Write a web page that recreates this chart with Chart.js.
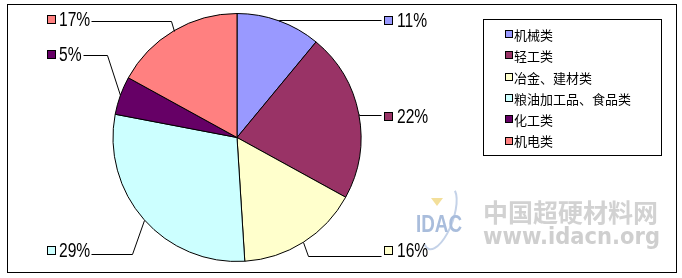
<!DOCTYPE html>
<html>
<head>
<meta charset="utf-8">
<script src="https://cdn.jsdelivr.net/npm/chart.js@4"></script>
<style>
html, body { margin: 0; padding: 0; background: #fff; }
#wrap { position: relative; width: 682px; height: 278px; }
</style>
</head>
<body>
<div id="wrap"><canvas id="industry_pie" width="682" height="278"></canvas></div>
<script>
// data
const categories = ['机械类', '轻工类', '冶金、建材类', '粮油加工品、食品类', '化工类', '机电类'];
const shares = [11, 22, 16, 29, 5, 17];
const sliceColors = ['#9999FF', '#993366', '#FFFFCC', '#CCFFFF', '#660066', '#FF8080'];

// where each percentage label sits (layout only)
const labelLayout = [
    { side: 'right', y: 20, lineY: 20 },
    { side: 'right', y: 116, lineY: 115 },
    { side: 'right', y: 250, lineY: 256 },
    { side: 'left', y: 250, lineY: 254 },
    { side: 'left', y: 54, lineY: 55 },
    { side: 'left', y: 19, lineY: 21 }
];

const pctFont = '20px "Liberation Sans", sans-serif';
const pctSquash = 0.78; // the original uses a tall narrow face
const legendFont = '13px "Noto Sans CJK SC", sans-serif';

const excelPlugin = {
    id: 'excelPlugin',
    beforeDraw(chart) {
        const ctx = chart.ctx;
        ctx.save();
        ctx.fillStyle = '#fff';
        ctx.fillRect(0, 0, chart.width, chart.height);
        ctx.strokeStyle = '#000';
        ctx.lineWidth = 1;
        ctx.strokeRect(7.5, 4.5, 669, 268);

        // watermark
        ctx.fillStyle = '#d2d2d2';
        ctx.font = 'bold 25px "Noto Sans CJK SC", sans-serif';
        ctx.textBaseline = 'middle';
        ctx.textAlign = 'left';
        ctx.fillText('中国超硬材料网', 483, 212, 178);
        ctx.fillStyle = '#cfcfcf';
        ctx.font = 'bold 23px "DejaVu Sans", sans-serif';
        ctx.fillText('www.idacn.org', 483, 238, 177);

        ctx.strokeStyle = '#c4d2e8';
        ctx.lineWidth = 2;
        ctx.beginPath();
        ctx.ellipse(440, 218, 13, 33, 0.35, -1.2, 2.0);
        ctx.stroke();
        ctx.fillStyle = '#f3df9a';
        ctx.beginPath();
        ctx.moveTo(431, 198); ctx.lineTo(443, 198); ctx.lineTo(437, 206); ctx.closePath();
        ctx.fill();
        ctx.fillStyle = '#a9bddc';
        ctx.font = 'bold 24px "Liberation Sans", sans-serif';
        ctx.fillText('IDAC', 416, 225, 46);
        ctx.restore();
    },
    afterDatasetsDraw(chart) {
        const ctx = chart.ctx;
        const arcs = chart.getDatasetMeta(0).data;
        ctx.save();
        ctx.strokeStyle = '#000';
        ctx.lineWidth = 1;
        ctx.font = pctFont;
        ctx.textBaseline = 'middle';
        ctx.textAlign = 'left';
        arcs.forEach((arc, i) => {
            const p = arc.getProps(['x', 'y', 'startAngle', 'endAngle', 'outerRadius'], true);
            const mid = (p.startAngle + p.endAngle) / 2;
            const ax = p.x + Math.cos(mid) * p.outerRadius;
            const ay = p.y + Math.sin(mid) * p.outerRadius;
            const lay = labelLayout[i];
            const text = shares[i] + '%';
            const textW = ctx.measureText(text).width * pctSquash;
            const dy = lay.lineY - ay;
            let boxX, textX, lineEnd, elbowX;
            if (lay.side === 'right') {
                boxX = 384;
                textX = 397;
                lineEnd = 381;
                elbowX = ax + Math.abs(dy) / 3;
            } else {
                boxX = 47;
                textX = 59;
                lineEnd = textX + textW + 1;
                elbowX = ax - Math.abs(dy) / 3;
            }
            ctx.beginPath();
            ctx.moveTo(Math.round(ax) + 0.5, Math.round(ay) + 0.5);
            ctx.lineTo(Math.round(elbowX) + 0.5, lay.lineY + 0.5);
            ctx.lineTo(Math.round(lineEnd) + 0.5, lay.lineY + 0.5);
            ctx.stroke();

            ctx.fillStyle = sliceColors[i];
            ctx.fillRect(boxX, lay.y - 4, 9, 9);
            ctx.strokeRect(boxX + 0.5, lay.y - 3.5, 8, 8);
            ctx.fillStyle = '#000';
            ctx.save();
            ctx.translate(textX, lay.y + 1);
            ctx.scale(pctSquash, 1);
            ctx.fillText(text, 0, 0);
            ctx.restore();
        });

        // legend box
        ctx.strokeRect(483.5, 19.5, 178, 136);
        ctx.font = legendFont;
        categories.forEach((name, i) => {
            const cy = 34 + i * 21.3;
            ctx.fillStyle = sliceColors[i];
            ctx.fillRect(505, Math.round(cy) - 4, 8, 8);
            ctx.strokeRect(505.5, Math.round(cy) - 3.5, 7, 7);
            ctx.fillStyle = '#000';
            ctx.fillText(name, 514, cy + 1);
        });
        ctx.restore();
    }
};

const ctx = document.getElementById('industry_pie').getContext('2d');
const industry_pie = new Chart(ctx, {
    type: 'pie',
    data: {
        labels: categories,
        datasets: [{
            data: shares,
            backgroundColor: sliceColors,
            borderColor: '#000',
            borderWidth: 1
        }]
    },
    options: {
        responsive: false,
        animation: false,
        layout: { padding: { left: 112, right: 320, top: 13, bottom: 16 } },
        plugins: {
            legend: { display: false },
            tooltip: { enabled: false }
        }
    },
    plugins: [excelPlugin]
});
</script>
</body>
</html>
